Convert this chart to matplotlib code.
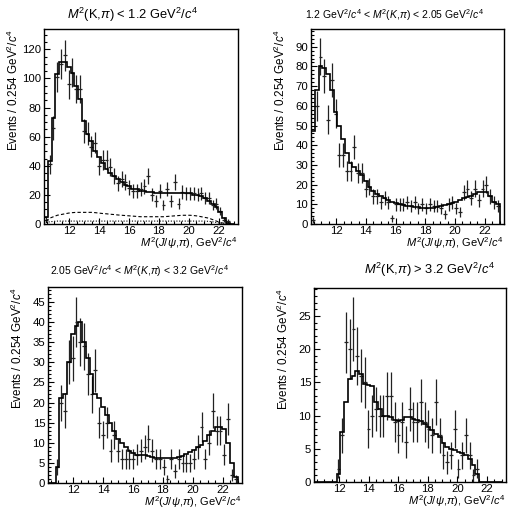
import numpy as np
import matplotlib
matplotlib.use("Agg")
import matplotlib.pyplot as plt
from matplotlib.ticker import MultipleLocator

plt.rcParams['font.family'] = ['Liberation Sans', 'DejaVu Sans']
plt.rcParams['mathtext.fontset'] = 'custom'
plt.rcParams['mathtext.rm'] = 'Liberation Sans'
plt.rcParams['mathtext.it'] = 'Liberation Sans:italic'
plt.rcParams['mathtext.bf'] = 'Liberation Sans:bold'
plt.rcParams['mathtext.sf'] = 'Liberation Sans'

# ---------------- data ----------------
BIN_WIDTH = 0.254
X_START = 10.3
N_BINS = 50

data_p1 = [3, 41, 66, 101, 110, 116, 96, 104, 93, 93,
           64, 62, 53, 56, 40, 44, 44, 39, 33, 28,
           31, 29, 25, 23, 23, 24, 26, 33, 20, 16,
           23, 13, 24, 16, 29, 14, 22, 21, 21, 21,
           20, 21, 18, 18, 13, 14, 9, 3, 2, 0]
fit_p1 = [5, 43, 73, 103, 111, 111, 108, 104, 95, 86,
          71, 62, 57, 50, 46, 42, 38, 35, 33, 31,
          29, 27, 26, 24, 24, 23, 23, 22, 22, 21,
          21, 21, 21, 21, 21, 21, 21, 21, 21, 20,
          20, 19, 18, 16, 14, 12, 8, 4, 1, 0]
dash_p1 = [2, 4, 5, 6, 6.5, 7, 7.5, 7.8, 8, 8,
           8, 8, 8, 7.8, 7.5, 7.2, 7, 6.7, 6.5, 6.2,
           6, 5.8, 5.6, 5.4, 5.2, 5, 5, 5, 5, 5,
           5, 5, 5.2, 5.4, 5.6, 5.8, 6, 6, 6, 5.8,
           5.5, 5, 4.5, 4, 3, 2, 1, 0.5, 0, 0]
dot_p1 = [1, 1.5, 1.8, 2, 2, 2, 2, 2, 2, 2,
          2, 2, 2, 2, 2, 2, 2, 2, 2, 2,
          2, 2, 2, 2, 2, 2, 2, 2, 2, 2,
          2, 2, 2, 2, 2, 2, 2, 2, 2, 2,
          2, 2, 2, 1.8, 1.5, 1, 0.5, 0.2, 0, 0]

data_p2 = [2, 60, 85, 75, 53, 73, 56, 35, 35, 27,
           27, 39, 26, 26, 18, 19, 14, 14, 11, 13,
           11, 3, 10, 10, 10, 11, 9, 11, 8, 10,
           8, 10, 9, 9, 8, 5, 10, 11, 8, 6,
           16, 18, 13, 18, 12, 18, 20, 14, 11, 9]
fit_p2 = [47, 68, 80, 79, 76, 68, 57, 50, 43, 36,
          31, 29, 27, 25, 22, 19, 17, 15, 14, 13,
          12, 11, 10.5, 10, 9.5, 9, 9, 8.5, 8.5, 8,
          8, 8, 8, 8.5, 9, 9.5, 10, 10.5, 11, 12,
          13, 13.5, 14, 15, 16, 16.5, 16, 14, 11, 10]

data_p3 = [0, 0, 4, 20, 18, 30, 31, 40, 35, 34,
           27, 22, 28, 15, 12, 15, 8, 12, 8, 6,
           6, 6, 6, 7, 8, 9, 11, 8, 6, 6,
           4, 1, 6, 3, 6, 5, 5, 5, 6, 9,
           14, 6, 10, 18, 13, 13, 7, 16, 2, 1]
fit_p3 = [0, 0, 4, 21, 22, 30, 37, 39, 40, 35,
          31, 27, 22, 21, 19, 17, 15, 13, 11, 10,
          9, 8, 7.5, 7, 7, 7, 6.8, 6.5, 6.3, 6.2,
          6.2, 6.2, 6.2, 6.3, 6.5, 6.8, 7.2, 7.7, 8.3, 9,
          9.5, 10.5, 12, 13, 14, 14, 13.5, 10, 5, 1.5]

data_p4 = [0, 0, 0, 0, 0, 0, 2, 7, 21, 20,
           23, 19, 16, 15, 8, 10, 11, 10, 10, 13,
           13, 9, 7, 9, 6, 11, 9, 9, 12, 9,
           8, 7, 12, 7, 4, 3, 4, 8, 2, 4,
           7, 4, 1, 2, 0, 0, 0, 0, 0, 0]
fit_p4 = [0, 0, 0, 0, 0, 0, 1.2, 7.5, 12, 15.5,
          16, 16.7, 16.3, 14.7, 14.6, 14.5, 12, 11, 10, 10,
          9.8, 9.3, 9.2, 9.3, 9.8, 9.8, 9.5, 9.3, 9.2, 8.8,
          8.3, 7.8, 7.2, 6.7, 5.8, 5.3, 5, 4.8, 4.5, 4.3,
          4, 3.5, 2.5, 1.2, 0, 0, 0, 0, 0, 0]

x_ticks = [12, 14, 16, 18, 20, 22]
titles = [r"$M^2$(K,$\pi$) < 1.2 GeV$^2$/$c^4$",
          r"1.2 GeV$^2$/$c^4$ < $M^2$($K$,$\pi$) < 2.05 GeV$^2$/$c^4$",
          r"2.05 GeV$^2$/$c^4$ < $M^2$($K$,$\pi$) < 3.2 GeV$^2$/$c^4$",
          r"$M^2$(K,$\pi$) > 3.2 GeV$^2$/$c^4$"]
ylabel = r"Events / 0.254 GeV$^2$/$c^4$"
xlabel = r"$M^2$($J$/$\psi$,$\pi$), GeV$^2$/$c^4$"

# ---------------- layout (pixels in a 509x509 figure) ----------------
W = H = 509
fig = plt.figure(figsize=(W / 100, H / 100), dpi=100)

panels = [
    dict(data=data_p1, fit=fit_p1, box=(44, 29, 238, 224), ylim=134, major=20, minor=5,
         title_xy=(133, 15), title_fs=9.3, ylab_x=13),
    dict(data=data_p2, fit=fit_p2, box=(311, 29, 504, 224), ylim=99, major=10, minor=2,
         title_xy=(395, 15), title_fs=7.5, ylab_x=280),
    dict(data=data_p3, fit=fit_p3, box=(48, 287, 242, 483), ylim=48.7, major=5, minor=1,
         title_xy=(140, 271), title_fs=7.5, ylab_x=17),
    dict(data=data_p4, fit=fit_p4, box=(314, 288, 506, 482), ylim=29.2, major=5, minor=1,
         title_xy=(430, 270), title_fs=9.3, ylab_x=283),
]

edges = X_START + BIN_WIDTH * np.arange(N_BINS + 1)
centers = edges[:-1] + BIN_WIDTH / 2

for i, p in enumerate(panels):
    l, t, r, b = p['box']
    ax = fig.add_axes([l / W, 1 - b / H, (r - l) / W, (b - t) / H])
    counts = np.array(p['data'], dtype=float)
    m = counts > 0
    ax.errorbar(centers[m], counts[m], xerr=BIN_WIDTH / 2, yerr=np.sqrt(counts[m]),
                fmt='none', ecolor='#222222', elinewidth=0.9, capsize=0, zorder=2)
    ax.stairs(np.array(p['fit'], dtype=float), edges, baseline=0, color='black',
              lw=1.2, zorder=3)
    if i == 0:
        ax.plot(centers, dash_p1, color='black', lw=0.8, ls=(0, (3, 2)), zorder=2)
        ax.plot(centers, dot_p1, color='black', lw=0.8, ls=(0, (1, 1.5)), zorder=2)
    ax.set_xlim(10.3, 23.3)
    ax.set_ylim(0, p['ylim'])
    ax.set_xticks(x_ticks)
    ax.xaxis.set_minor_locator(MultipleLocator(0.5))
    ax.yaxis.set_major_locator(MultipleLocator(p['major']))
    ax.yaxis.set_minor_locator(MultipleLocator(p['minor']))
    ax.tick_params(which='both', direction='in', top=False, right=False,
                   labelsize=8.2, width=0.8)
    ax.tick_params(axis='x', pad=1.5)
    ax.tick_params(axis='y', pad=2)
    ax.tick_params(which='major', length=4.5)
    ax.tick_params(which='minor', length=2.3)
    for s in ax.spines.values():
        s.set_linewidth(1.0)
    # titles and axis labels
    tx, ty = p['title_xy']
    fig.text(tx / W, 1 - ty / H, titles[i], ha='center', va='center', fontsize=p['title_fs'])
    fig.text(p['ylab_x'] / W, 1 - t / H, ylabel, rotation=90, ha='center', va='top',
             fontsize=8.4)
    fig.text(r / W, 1 - (b + 19.5) / H, xlabel, ha='right', va='center', fontsize=8)

fig.savefig("out.png", dpi=100)
